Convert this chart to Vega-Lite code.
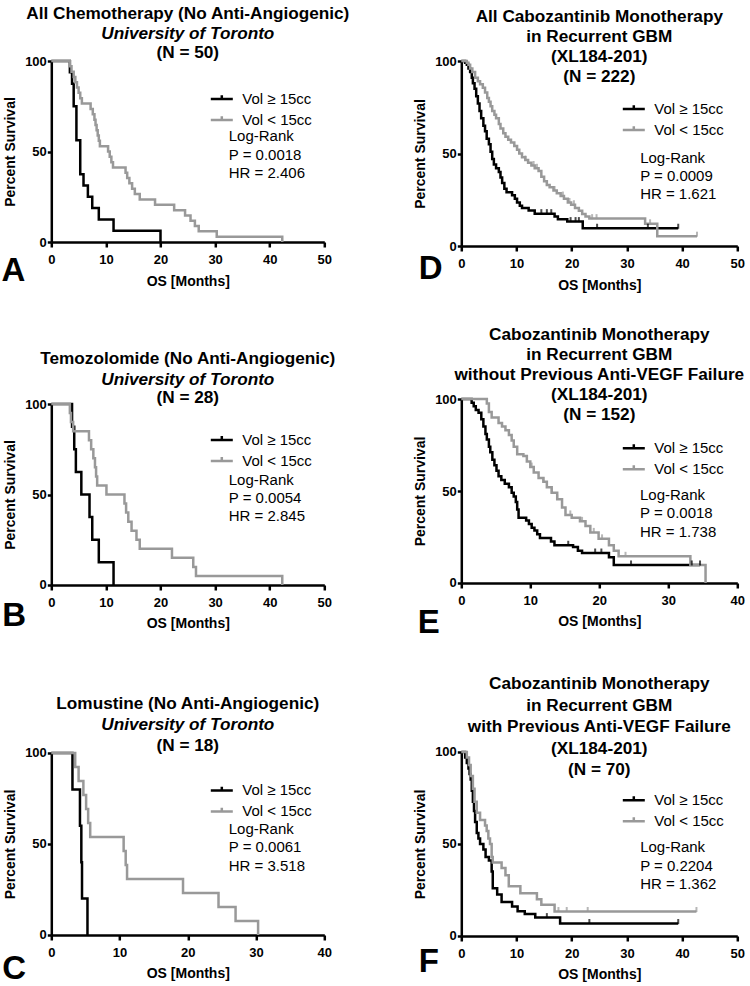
{
"$schema":"https://vega.github.io/schema/vega-lite/v6.json",
"background":"white",
"padding":{"left":1.3,"top":5,"right":2,"bottom":2},
"config":{
 "font":"Liberation Sans",
 "view":{"stroke":null},
 "axis":{"domainColor":"black","domainWidth":2.5,"tickColor":"black","tickWidth":2.5,"tickSize":4,"labelFont":"Liberation Sans","labelFontWeight":"bold","labelFontSize":13,"labelColor":"black","titleFont":"Liberation Sans","titleFontWeight":"bold","titleFontSize":14,"titleColor":"black","grid":false},
 "axisX":{"tickSize":5,"labelPadding":6.5,"titlePadding":7.5,"labelFlush":false},
 "axisY":{"labelPadding":1,"titlePadding":7},
 "title":{"font":"Liberation Sans","fontSize":17.2,"fontWeight":"bold","color":"black","lineHeight":20,"subtitleFont":"Liberation Sans","subtitleFontSize":17.2,"subtitleFontWeight":"bold","subtitleFontStyle":"italic","subtitleColor":"black","subtitleLineHeight":20,"subtitlePadding":3,"frame":"group","anchor":"middle"},
 "legend":{"symbolSize":484,"symbolStrokeWidth":2.5,"labelFont":"Liberation Sans","labelFontSize":15,"labelColor":"black","labelOffset":8,"rowPadding":-3,"padding":0,"labelLimit":300},
 "line":{"strokeWidth":2.5,"interpolate":"step-after"}
},
"datasets":{
"km":[
{"p":"A","g":"Vol ≥ 15cc","t":0,"s":100},{"p":"A","g":"Vol ≥ 15cc","t":3.4,"s":93.75},{"p":"A","g":"Vol ≥ 15cc","t":3.8,"s":87.5},{"p":"A","g":"Vol ≥ 15cc","t":4.1,"s":75},{"p":"A","g":"Vol ≥ 15cc","t":4.6,"s":56.25},{"p":"A","g":"Vol ≥ 15cc","t":5.3,"s":37.5},{"p":"A","g":"Vol ≥ 15cc","t":5.9,"s":31.25},{"p":"A","g":"Vol ≥ 15cc","t":6.7,"s":25},{"p":"A","g":"Vol ≥ 15cc","t":7.5,"s":18.75},{"p":"A","g":"Vol ≥ 15cc","t":8.7,"s":12.5},{"p":"A","g":"Vol ≥ 15cc","t":11.4,"s":6.25},{"p":"A","g":"Vol ≥ 15cc","t":20,"s":0},
{"p":"A","g":"Vol < 15cc","t":0,"s":100},{"p":"A","g":"Vol < 15cc","t":3.4,"s":97.1},{"p":"A","g":"Vol < 15cc","t":3.7,"s":94.1},{"p":"A","g":"Vol < 15cc","t":4.1,"s":91.2},{"p":"A","g":"Vol < 15cc","t":4.4,"s":88.2},{"p":"A","g":"Vol < 15cc","t":4.7,"s":85.3},{"p":"A","g":"Vol < 15cc","t":5.0,"s":82.4},{"p":"A","g":"Vol < 15cc","t":5.3,"s":79.4},{"p":"A","g":"Vol < 15cc","t":5.6,"s":76.5},{"p":"A","g":"Vol < 15cc","t":7.2,"s":73.5},{"p":"A","g":"Vol < 15cc","t":7.6,"s":70.6},{"p":"A","g":"Vol < 15cc","t":7.9,"s":67.6},{"p":"A","g":"Vol < 15cc","t":8.1,"s":64.7},{"p":"A","g":"Vol < 15cc","t":8.3,"s":61.8},{"p":"A","g":"Vol < 15cc","t":8.5,"s":58.8},{"p":"A","g":"Vol < 15cc","t":8.7,"s":55.9},{"p":"A","g":"Vol < 15cc","t":8.9,"s":52.9},{"p":"A","g":"Vol < 15cc","t":10.4,"s":50},{"p":"A","g":"Vol < 15cc","t":10.7,"s":47.1},{"p":"A","g":"Vol < 15cc","t":11.0,"s":44.1},{"p":"A","g":"Vol < 15cc","t":11.3,"s":41.2},{"p":"A","g":"Vol < 15cc","t":13.6,"s":38.2},{"p":"A","g":"Vol < 15cc","t":13.9,"s":35.3},{"p":"A","g":"Vol < 15cc","t":14.3,"s":32.4},{"p":"A","g":"Vol < 15cc","t":14.8,"s":29.4},{"p":"A","g":"Vol < 15cc","t":15.3,"s":26.5},{"p":"A","g":"Vol < 15cc","t":16.2,"s":23.5},{"p":"A","g":"Vol < 15cc","t":19.0,"s":20.6},{"p":"A","g":"Vol < 15cc","t":22.5,"s":17.6},{"p":"A","g":"Vol < 15cc","t":24.5,"s":14.7},{"p":"A","g":"Vol < 15cc","t":25.5,"s":11.8},{"p":"A","g":"Vol < 15cc","t":26.3,"s":8.8},{"p":"A","g":"Vol < 15cc","t":27.0,"s":5.9},{"p":"A","g":"Vol < 15cc","t":30.3,"s":2.9},{"p":"A","g":"Vol < 15cc","t":42.3,"s":0},
{"p":"B","g":"Vol ≥ 15cc","t":0,"s":100},{"p":"B","g":"Vol ≥ 15cc","t":3.8,"s":87.5},{"p":"B","g":"Vol ≥ 15cc","t":4.2,"s":75},{"p":"B","g":"Vol ≥ 15cc","t":4.5,"s":62.5},{"p":"B","g":"Vol ≥ 15cc","t":5.5,"s":50},{"p":"B","g":"Vol ≥ 15cc","t":7.0,"s":37.5},{"p":"B","g":"Vol ≥ 15cc","t":7.5,"s":25},{"p":"B","g":"Vol ≥ 15cc","t":8.7,"s":12.5},{"p":"B","g":"Vol ≥ 15cc","t":11.4,"s":0},
{"p":"B","g":"Vol < 15cc","t":0,"s":100},{"p":"B","g":"Vol < 15cc","t":3.4,"s":95},{"p":"B","g":"Vol < 15cc","t":3.6,"s":90},{"p":"B","g":"Vol < 15cc","t":4.0,"s":85},{"p":"B","g":"Vol < 15cc","t":6.9,"s":80},{"p":"B","g":"Vol < 15cc","t":7.3,"s":75},{"p":"B","g":"Vol < 15cc","t":7.7,"s":70},{"p":"B","g":"Vol < 15cc","t":8.0,"s":65},{"p":"B","g":"Vol < 15cc","t":8.2,"s":60},{"p":"B","g":"Vol < 15cc","t":8.4,"s":55},{"p":"B","g":"Vol < 15cc","t":10.1,"s":50},{"p":"B","g":"Vol < 15cc","t":13.4,"s":45},{"p":"B","g":"Vol < 15cc","t":13.7,"s":40},{"p":"B","g":"Vol < 15cc","t":14.1,"s":35},{"p":"B","g":"Vol < 15cc","t":14.7,"s":30},{"p":"B","g":"Vol < 15cc","t":15.6,"s":25},{"p":"B","g":"Vol < 15cc","t":16.2,"s":20},{"p":"B","g":"Vol < 15cc","t":22.1,"s":15},{"p":"B","g":"Vol < 15cc","t":26.0,"s":10},{"p":"B","g":"Vol < 15cc","t":26.5,"s":5},{"p":"B","g":"Vol < 15cc","t":42.3,"s":0},
{"p":"C","g":"Vol ≥ 15cc","t":0,"s":100},{"p":"C","g":"Vol ≥ 15cc","t":3.1,"s":80},{"p":"C","g":"Vol ≥ 15cc","t":4.2,"s":60},{"p":"C","g":"Vol ≥ 15cc","t":4.4,"s":40},{"p":"C","g":"Vol ≥ 15cc","t":4.5,"s":20},{"p":"C","g":"Vol ≥ 15cc","t":5.3,"s":0},
{"p":"C","g":"Vol < 15cc","t":0,"s":100},{"p":"C","g":"Vol < 15cc","t":3.5,"s":92.3},{"p":"C","g":"Vol < 15cc","t":4.0,"s":84.6},{"p":"C","g":"Vol < 15cc","t":4.7,"s":76.9},{"p":"C","g":"Vol < 15cc","t":5.1,"s":69.2},{"p":"C","g":"Vol < 15cc","t":5.4,"s":61.5},{"p":"C","g":"Vol < 15cc","t":5.7,"s":53.8},{"p":"C","g":"Vol < 15cc","t":10.6,"s":46.2},{"p":"C","g":"Vol < 15cc","t":10.9,"s":38.5},{"p":"C","g":"Vol < 15cc","t":11.1,"s":30.8},{"p":"C","g":"Vol < 15cc","t":19.3,"s":23.1},{"p":"C","g":"Vol < 15cc","t":24.5,"s":15.4},{"p":"C","g":"Vol < 15cc","t":27.0,"s":7.7},{"p":"C","g":"Vol < 15cc","t":30.3,"s":0},
{"p":"D","g":"Vol ≥ 15cc","t":0,"s":100},{"p":"D","g":"Vol ≥ 15cc","t":0.7,"s":99},{"p":"D","g":"Vol ≥ 15cc","t":1.0,"s":98},{"p":"D","g":"Vol ≥ 15cc","t":1.3,"s":96},{"p":"D","g":"Vol ≥ 15cc","t":1.6,"s":94},{"p":"D","g":"Vol ≥ 15cc","t":1.9,"s":91},{"p":"D","g":"Vol ≥ 15cc","t":2.1,"s":88},{"p":"D","g":"Vol ≥ 15cc","t":2.4,"s":85},{"p":"D","g":"Vol ≥ 15cc","t":2.7,"s":81},{"p":"D","g":"Vol ≥ 15cc","t":3.0,"s":77},{"p":"D","g":"Vol ≥ 15cc","t":3.3,"s":73},{"p":"D","g":"Vol ≥ 15cc","t":3.6,"s":69},{"p":"D","g":"Vol ≥ 15cc","t":4.0,"s":65},{"p":"D","g":"Vol ≥ 15cc","t":4.3,"s":62},{"p":"D","g":"Vol ≥ 15cc","t":4.6,"s":58},{"p":"D","g":"Vol ≥ 15cc","t":5.0,"s":55},{"p":"D","g":"Vol ≥ 15cc","t":5.3,"s":51},{"p":"D","g":"Vol ≥ 15cc","t":5.6,"s":47},{"p":"D","g":"Vol ≥ 15cc","t":5.9,"s":44},{"p":"D","g":"Vol ≥ 15cc","t":6.3,"s":42},{"p":"D","g":"Vol ≥ 15cc","t":6.8,"s":40},{"p":"D","g":"Vol ≥ 15cc","t":7.1,"s":37},{"p":"D","g":"Vol ≥ 15cc","t":7.4,"s":34},{"p":"D","g":"Vol ≥ 15cc","t":7.8,"s":31},{"p":"D","g":"Vol ≥ 15cc","t":8.2,"s":29},{"p":"D","g":"Vol ≥ 15cc","t":9.2,"s":27.5},{"p":"D","g":"Vol ≥ 15cc","t":9.7,"s":25.5},{"p":"D","g":"Vol ≥ 15cc","t":10.1,"s":23.5},{"p":"D","g":"Vol ≥ 15cc","t":10.6,"s":21.8},{"p":"D","g":"Vol ≥ 15cc","t":11.0,"s":20.5},{"p":"D","g":"Vol ≥ 15cc","t":12.2,"s":19.2},{"p":"D","g":"Vol ≥ 15cc","t":13.3,"s":17.5},{"p":"D","g":"Vol ≥ 15cc","t":16.9,"s":16},{"p":"D","g":"Vol ≥ 15cc","t":17.5,"s":14.5},{"p":"D","g":"Vol ≥ 15cc","t":19.2,"s":13.2},{"p":"D","g":"Vol ≥ 15cc","t":22.0,"s":9.6},{"p":"D","g":"Vol ≥ 15cc","t":39.3,"s":9.6},
{"p":"D","g":"Vol < 15cc","t":0,"s":100},{"p":"D","g":"Vol < 15cc","t":1.0,"s":99},{"p":"D","g":"Vol < 15cc","t":1.3,"s":98},{"p":"D","g":"Vol < 15cc","t":1.6,"s":96},{"p":"D","g":"Vol < 15cc","t":2.0,"s":94},{"p":"D","g":"Vol < 15cc","t":2.5,"s":91},{"p":"D","g":"Vol < 15cc","t":3.0,"s":89},{"p":"D","g":"Vol < 15cc","t":3.4,"s":87.5},{"p":"D","g":"Vol < 15cc","t":3.9,"s":85.5},{"p":"D","g":"Vol < 15cc","t":4.3,"s":83},{"p":"D","g":"Vol < 15cc","t":4.7,"s":80},{"p":"D","g":"Vol < 15cc","t":5.0,"s":78},{"p":"D","g":"Vol < 15cc","t":5.3,"s":75.5},{"p":"D","g":"Vol < 15cc","t":5.6,"s":73},{"p":"D","g":"Vol < 15cc","t":6.0,"s":71},{"p":"D","g":"Vol < 15cc","t":6.3,"s":69},{"p":"D","g":"Vol < 15cc","t":6.8,"s":66},{"p":"D","g":"Vol < 15cc","t":7.1,"s":63.5},{"p":"D","g":"Vol < 15cc","t":7.6,"s":61},{"p":"D","g":"Vol < 15cc","t":8.0,"s":59},{"p":"D","g":"Vol < 15cc","t":8.5,"s":57.5},{"p":"D","g":"Vol < 15cc","t":9.0,"s":56},{"p":"D","g":"Vol < 15cc","t":9.6,"s":54},{"p":"D","g":"Vol < 15cc","t":10.1,"s":52},{"p":"D","g":"Vol < 15cc","t":10.5,"s":50},{"p":"D","g":"Vol < 15cc","t":11.0,"s":48},{"p":"D","g":"Vol < 15cc","t":11.6,"s":46.5},{"p":"D","g":"Vol < 15cc","t":12.1,"s":45},{"p":"D","g":"Vol < 15cc","t":12.7,"s":43.5},{"p":"D","g":"Vol < 15cc","t":13.3,"s":42},{"p":"D","g":"Vol < 15cc","t":14.0,"s":40.5},{"p":"D","g":"Vol < 15cc","t":14.5,"s":37.5},{"p":"D","g":"Vol < 15cc","t":15.0,"s":35},{"p":"D","g":"Vol < 15cc","t":15.5,"s":33},{"p":"D","g":"Vol < 15cc","t":16.0,"s":31.8},{"p":"D","g":"Vol < 15cc","t":16.7,"s":30},{"p":"D","g":"Vol < 15cc","t":17.3,"s":28.5},{"p":"D","g":"Vol < 15cc","t":18.0,"s":27},{"p":"D","g":"Vol < 15cc","t":18.6,"s":25.5},{"p":"D","g":"Vol < 15cc","t":19.3,"s":23.5},{"p":"D","g":"Vol < 15cc","t":19.9,"s":22.3},{"p":"D","g":"Vol < 15cc","t":20.6,"s":20.5},{"p":"D","g":"Vol < 15cc","t":21.3,"s":19},{"p":"D","g":"Vol < 15cc","t":21.9,"s":17.3},{"p":"D","g":"Vol < 15cc","t":22.5,"s":16},{"p":"D","g":"Vol < 15cc","t":23.2,"s":14.8},{"p":"D","g":"Vol < 15cc","t":33.3,"s":12},{"p":"D","g":"Vol < 15cc","t":35.5,"s":5.3},{"p":"D","g":"Vol < 15cc","t":42.7,"s":5.3},
{"p":"E","g":"Vol ≥ 15cc","t":0,"s":100},{"p":"E","g":"Vol ≥ 15cc","t":1.5,"s":98},{"p":"E","g":"Vol ≥ 15cc","t":1.8,"s":96},{"p":"E","g":"Vol ≥ 15cc","t":2.1,"s":94},{"p":"E","g":"Vol ≥ 15cc","t":2.5,"s":92.5},{"p":"E","g":"Vol ≥ 15cc","t":2.9,"s":89},{"p":"E","g":"Vol ≥ 15cc","t":3.2,"s":85},{"p":"E","g":"Vol ≥ 15cc","t":3.5,"s":81},{"p":"E","g":"Vol ≥ 15cc","t":3.7,"s":78},{"p":"E","g":"Vol ≥ 15cc","t":4.0,"s":74},{"p":"E","g":"Vol ≥ 15cc","t":4.2,"s":71},{"p":"E","g":"Vol ≥ 15cc","t":4.5,"s":67},{"p":"E","g":"Vol ≥ 15cc","t":4.8,"s":64},{"p":"E","g":"Vol ≥ 15cc","t":5.1,"s":61},{"p":"E","g":"Vol ≥ 15cc","t":5.4,"s":58},{"p":"E","g":"Vol ≥ 15cc","t":5.8,"s":56},{"p":"E","g":"Vol ≥ 15cc","t":6.3,"s":54},{"p":"E","g":"Vol ≥ 15cc","t":6.9,"s":52},{"p":"E","g":"Vol ≥ 15cc","t":7.3,"s":49},{"p":"E","g":"Vol ≥ 15cc","t":7.6,"s":47},{"p":"E","g":"Vol ≥ 15cc","t":7.9,"s":44},{"p":"E","g":"Vol ≥ 15cc","t":8.1,"s":40},{"p":"E","g":"Vol ≥ 15cc","t":8.3,"s":35.5},{"p":"E","g":"Vol ≥ 15cc","t":9.4,"s":34},{"p":"E","g":"Vol ≥ 15cc","t":9.8,"s":32},{"p":"E","g":"Vol ≥ 15cc","t":10.2,"s":30},{"p":"E","g":"Vol ≥ 15cc","t":10.6,"s":28.5},{"p":"E","g":"Vol ≥ 15cc","t":11.0,"s":26.5},{"p":"E","g":"Vol ≥ 15cc","t":11.4,"s":24.5},{"p":"E","g":"Vol ≥ 15cc","t":13.0,"s":22.5},{"p":"E","g":"Vol ≥ 15cc","t":13.5,"s":20.5},{"p":"E","g":"Vol ≥ 15cc","t":16.2,"s":19.5},{"p":"E","g":"Vol ≥ 15cc","t":16.9,"s":17.5},{"p":"E","g":"Vol ≥ 15cc","t":17.5,"s":16.3},{"p":"E","g":"Vol ≥ 15cc","t":21.4,"s":14},{"p":"E","g":"Vol ≥ 15cc","t":22.1,"s":9.8},{"p":"E","g":"Vol ≥ 15cc","t":34.6,"s":9.8},
{"p":"E","g":"Vol < 15cc","t":0,"s":100},{"p":"E","g":"Vol < 15cc","t":3.7,"s":97.5},{"p":"E","g":"Vol < 15cc","t":4.0,"s":93},{"p":"E","g":"Vol < 15cc","t":4.4,"s":90},{"p":"E","g":"Vol < 15cc","t":5.4,"s":87},{"p":"E","g":"Vol < 15cc","t":5.9,"s":85},{"p":"E","g":"Vol < 15cc","t":6.4,"s":83},{"p":"E","g":"Vol < 15cc","t":6.9,"s":80.5},{"p":"E","g":"Vol < 15cc","t":7.3,"s":77.5},{"p":"E","g":"Vol < 15cc","t":7.6,"s":74},{"p":"E","g":"Vol < 15cc","t":8.1,"s":70},{"p":"E","g":"Vol < 15cc","t":9.0,"s":69},{"p":"E","g":"Vol < 15cc","t":9.5,"s":66},{"p":"E","g":"Vol < 15cc","t":10.0,"s":63},{"p":"E","g":"Vol < 15cc","t":10.5,"s":60},{"p":"E","g":"Vol < 15cc","t":11.2,"s":57},{"p":"E","g":"Vol < 15cc","t":11.9,"s":55},{"p":"E","g":"Vol < 15cc","t":12.4,"s":52},{"p":"E","g":"Vol < 15cc","t":13.1,"s":49},{"p":"E","g":"Vol < 15cc","t":13.9,"s":45.5},{"p":"E","g":"Vol < 15cc","t":14.6,"s":41},{"p":"E","g":"Vol < 15cc","t":15.1,"s":37},{"p":"E","g":"Vol < 15cc","t":16.0,"s":35.5},{"p":"E","g":"Vol < 15cc","t":17.2,"s":33.5},{"p":"E","g":"Vol < 15cc","t":18.0,"s":31},{"p":"E","g":"Vol < 15cc","t":18.7,"s":27.5},{"p":"E","g":"Vol < 15cc","t":19.9,"s":24},{"p":"E","g":"Vol < 15cc","t":21.4,"s":20.5},{"p":"E","g":"Vol < 15cc","t":22.1,"s":17.5},{"p":"E","g":"Vol < 15cc","t":22.8,"s":14.5},{"p":"E","g":"Vol < 15cc","t":33.2,"s":9.8},{"p":"E","g":"Vol < 15cc","t":35.4,"s":0},
{"p":"F","g":"Vol ≥ 15cc","t":0,"s":100},{"p":"F","g":"Vol ≥ 15cc","t":0.7,"s":97},{"p":"F","g":"Vol ≥ 15cc","t":1.0,"s":94},{"p":"F","g":"Vol ≥ 15cc","t":1.3,"s":91},{"p":"F","g":"Vol ≥ 15cc","t":1.5,"s":88},{"p":"F","g":"Vol ≥ 15cc","t":1.7,"s":85},{"p":"F","g":"Vol ≥ 15cc","t":1.9,"s":79},{"p":"F","g":"Vol ≥ 15cc","t":2.1,"s":73},{"p":"F","g":"Vol ≥ 15cc","t":2.3,"s":68},{"p":"F","g":"Vol ≥ 15cc","t":2.5,"s":62},{"p":"F","g":"Vol ≥ 15cc","t":2.8,"s":56},{"p":"F","g":"Vol ≥ 15cc","t":3.1,"s":53},{"p":"F","g":"Vol ≥ 15cc","t":3.4,"s":50},{"p":"F","g":"Vol ≥ 15cc","t":4.0,"s":47},{"p":"F","g":"Vol ≥ 15cc","t":4.4,"s":43},{"p":"F","g":"Vol ≥ 15cc","t":5.0,"s":41},{"p":"F","g":"Vol ≥ 15cc","t":5.5,"s":35},{"p":"F","g":"Vol ≥ 15cc","t":5.7,"s":26},{"p":"F","g":"Vol ≥ 15cc","t":6.5,"s":22.5},{"p":"F","g":"Vol ≥ 15cc","t":7.3,"s":18.5},{"p":"F","g":"Vol ≥ 15cc","t":9.2,"s":16},{"p":"F","g":"Vol ≥ 15cc","t":10.2,"s":13.5},{"p":"F","g":"Vol ≥ 15cc","t":11.5,"s":12},{"p":"F","g":"Vol ≥ 15cc","t":13.4,"s":10},{"p":"F","g":"Vol ≥ 15cc","t":17.9,"s":6.8},{"p":"F","g":"Vol ≥ 15cc","t":39.3,"s":6.8},
{"p":"F","g":"Vol < 15cc","t":0,"s":100},{"p":"F","g":"Vol < 15cc","t":1.0,"s":97},{"p":"F","g":"Vol < 15cc","t":1.4,"s":93},{"p":"F","g":"Vol < 15cc","t":1.7,"s":87},{"p":"F","g":"Vol < 15cc","t":2.1,"s":80},{"p":"F","g":"Vol < 15cc","t":2.4,"s":73},{"p":"F","g":"Vol < 15cc","t":2.8,"s":67},{"p":"F","g":"Vol < 15cc","t":3.4,"s":63},{"p":"F","g":"Vol < 15cc","t":4.3,"s":60},{"p":"F","g":"Vol < 15cc","t":4.6,"s":57},{"p":"F","g":"Vol < 15cc","t":4.9,"s":53},{"p":"F","g":"Vol < 15cc","t":5.2,"s":50},{"p":"F","g":"Vol < 15cc","t":5.5,"s":43},{"p":"F","g":"Vol < 15cc","t":5.7,"s":40},{"p":"F","g":"Vol < 15cc","t":7.3,"s":37},{"p":"F","g":"Vol < 15cc","t":8.0,"s":33},{"p":"F","g":"Vol < 15cc","t":8.6,"s":27},{"p":"F","g":"Vol < 15cc","t":10.7,"s":23.3},{"p":"F","g":"Vol < 15cc","t":13.7,"s":20},{"p":"F","g":"Vol < 15cc","t":14.5,"s":17},{"p":"F","g":"Vol < 15cc","t":16.9,"s":13.3},{"p":"F","g":"Vol < 15cc","t":42.6,"s":13.3}
],
"cens":[
{"p":"D","g":"Vol ≥ 15cc","t":14.5,"s":17.5},{"p":"D","g":"Vol ≥ 15cc","t":15.5,"s":17.5},{"p":"D","g":"Vol ≥ 15cc","t":16.3,"s":17.5},{"p":"D","g":"Vol ≥ 15cc","t":19.8,"s":13.2},{"p":"D","g":"Vol ≥ 15cc","t":20.7,"s":13.2},{"p":"D","g":"Vol ≥ 15cc","t":21.3,"s":13.2},{"p":"D","g":"Vol ≥ 15cc","t":24.6,"s":9.6},{"p":"D","g":"Vol ≥ 15cc","t":33.8,"s":9.6},{"p":"D","g":"Vol ≥ 15cc","t":39.3,"s":9.6},
{"p":"D","g":"Vol < 15cc","t":10.1,"s":52},{"p":"D","g":"Vol < 15cc","t":11.6,"s":46.5},{"p":"D","g":"Vol < 15cc","t":13.1,"s":43.5},{"p":"D","g":"Vol < 15cc","t":13.7,"s":42},{"p":"D","g":"Vol < 15cc","t":15.5,"s":33},{"p":"D","g":"Vol < 15cc","t":16.9,"s":30},{"p":"D","g":"Vol < 15cc","t":18.4,"s":27},{"p":"D","g":"Vol < 15cc","t":19.6,"s":23.5},{"p":"D","g":"Vol < 15cc","t":20.4,"s":22.3},{"p":"D","g":"Vol < 15cc","t":23.7,"s":14.8},{"p":"D","g":"Vol < 15cc","t":24.5,"s":14.8},{"p":"D","g":"Vol < 15cc","t":34.2,"s":12},{"p":"D","g":"Vol < 15cc","t":42.7,"s":5.3},
{"p":"E","g":"Vol ≥ 15cc","t":15.5,"s":20.5},{"p":"E","g":"Vol ≥ 15cc","t":19.4,"s":16.3},{"p":"E","g":"Vol ≥ 15cc","t":20.3,"s":16.3},{"p":"E","g":"Vol ≥ 15cc","t":24.6,"s":9.8},{"p":"E","g":"Vol ≥ 15cc","t":33.4,"s":9.8},{"p":"E","g":"Vol ≥ 15cc","t":34.6,"s":9.8},
{"p":"E","g":"Vol < 15cc","t":10.2,"s":63},{"p":"E","g":"Vol < 15cc","t":11.9,"s":55},{"p":"E","g":"Vol < 15cc","t":13.1,"s":49},{"p":"E","g":"Vol < 15cc","t":13.9,"s":45.5},{"p":"E","g":"Vol < 15cc","t":15.8,"s":37},{"p":"E","g":"Vol < 15cc","t":17.5,"s":33.5},{"p":"E","g":"Vol < 15cc","t":19.2,"s":27.5},{"p":"E","g":"Vol < 15cc","t":20.4,"s":24},{"p":"E","g":"Vol < 15cc","t":21.4,"s":20.5},{"p":"E","g":"Vol < 15cc","t":23.8,"s":14.5},
{"p":"F","g":"Vol ≥ 15cc","t":15.5,"s":10},{"p":"F","g":"Vol ≥ 15cc","t":23.2,"s":6.8},{"p":"F","g":"Vol ≥ 15cc","t":39.3,"s":6.8},
{"p":"F","g":"Vol < 15cc","t":17.6,"s":13.3},{"p":"F","g":"Vol < 15cc","t":19.1,"s":13.3},{"p":"F","g":"Vol < 15cc","t":22.9,"s":13.3},{"p":"F","g":"Vol < 15cc","t":42.6,"s":13.3}
],
"notes":[
{"p":"A","lr":"Log-Rank\nP = 0.0018\nHR = 2.406","n":"(N = 50)","letter":"A"},
{"p":"B","lr":"Log-Rank\nP = 0.0054\nHR = 2.845","n":"(N = 28)","letter":"B"},
{"p":"C","lr":"Log-Rank\nP = 0.0061\nHR = 3.518","n":"(N = 18)","letter":"C"},
{"p":"D","lr":"Log-Rank\nP = 0.0009\nHR = 1.621","n":"","letter":"D"},
{"p":"E","lr":"Log-Rank\nP = 0.0018\nHR = 1.738","n":"","letter":"E"},
{"p":"F","lr":"Log-Rank\nP = 0.2204\nHR = 1.362","n":"","letter":"F"}
]
},
"hconcat":[
{"vconcat":[
{"width":273,"height":181,
 "title":{"text":"All Chemotherapy (No Anti-Angiogenic)","subtitle":"University of Toronto","offset":1},
 "layer":[
  {"data":{"name":"km"},"transform":[{"filter":"datum.p==='A'"}],"mark":"line",
   "encoding":{
    "x":{"field":"t","type":"quantitative","scale":{"domain":[0,50],"nice":false},"axis":{"values":[0,10,20,30,40,50],"title":"OS [Months]"}},
    "y":{"field":"s","type":"quantitative","scale":{"domain":[0,100],"nice":false},"axis":{"values":[0,50,100],"title":"Percent Survival"}},
    "color":{"field":"g","type":"nominal","scale":{"domain":["Vol ≥ 15cc","Vol < 15cc"],"range":["#000000","#999999"]},"legend":{"title":null,"orient":"none","legendX":158,"legendY":25.6,"rowPadding":-5,"symbolType":"M-1,0H1M0,0V-0.35"}}}},
  {"data":{"name":"notes"},"transform":[{"filter":"datum.p==='A'"}],"mark":{"type":"text","align":"left","baseline":"middle","fontSize":15,"lineHeight":18.3,"lineBreak":"\n","color":"black"},
   "encoding":{"x":{"datum":32.5,"type":"quantitative"},"y":{"datum":58.4,"type":"quantitative"},"text":{"field":"lr","type":"nominal"}}},
  {"data":{"name":"notes"},"transform":[{"filter":"datum.p==='A'"}],"mark":{"type":"text","align":"center","baseline":"middle","fontSize":17.2,"fontWeight":"bold","color":"black"},
   "encoding":{"x":{"datum":25,"type":"quantitative"},"y":{"datum":104.6,"type":"quantitative"},"text":{"field":"n","type":"nominal"}}},
  {"data":{"name":"notes"},"transform":[{"filter":"datum.p==='A'"}],"mark":{"type":"text","align":"left","baseline":"alphabetic","fontSize":33,"fontWeight":"bold","color":"black"},
   "encoding":{"x":{"datum":-9.1,"type":"quantitative"},"y":{"datum":-21.7,"type":"quantitative"},"text":{"field":"letter","type":"nominal"}}}
 ]},
{"width":273,"height":181,
 "title":{"text":"Temozolomide (No Anti-Angiogenic)","subtitle":"University of Toronto","offset":1.5},
 "layer":[
  {"data":{"name":"km"},"transform":[{"filter":"datum.p==='B'"}],"mark":"line",
   "encoding":{
    "x":{"field":"t","type":"quantitative","scale":{"domain":[0,50],"nice":false},"axis":{"values":[0,10,20,30,40,50],"title":"OS [Months]"}},
    "y":{"field":"s","type":"quantitative","scale":{"domain":[0,100],"nice":false},"axis":{"values":[0,50,100],"title":"Percent Survival"}},
    "color":{"field":"g","type":"nominal","scale":{"domain":["Vol ≥ 15cc","Vol < 15cc"],"range":["#000000","#999999"]},"legend":{"title":null,"orient":"none","legendX":158,"legendY":23.4,"rowPadding":-5,"symbolType":"M-1,0H1M0,0V-0.35"}}}},
  {"data":{"name":"notes"},"transform":[{"filter":"datum.p==='B'"}],"mark":{"type":"text","align":"left","baseline":"middle","fontSize":15,"lineHeight":18.3,"lineBreak":"\n","color":"black"},
   "encoding":{"x":{"datum":32.5,"type":"quantitative"},"y":{"datum":58.1,"type":"quantitative"},"text":{"field":"lr","type":"nominal"}}},
  {"data":{"name":"notes"},"transform":[{"filter":"datum.p==='B'"}],"mark":{"type":"text","align":"center","baseline":"middle","fontSize":17.2,"fontWeight":"bold","color":"black"},
   "encoding":{"x":{"datum":25,"type":"quantitative"},"y":{"datum":103.1,"type":"quantitative"},"text":{"field":"n","type":"nominal"}}},
  {"data":{"name":"notes"},"transform":[{"filter":"datum.p==='B'"}],"mark":{"type":"text","align":"left","baseline":"alphabetic","fontSize":33,"fontWeight":"bold","color":"black"},
   "encoding":{"x":{"datum":-9,"type":"quantitative"},"y":{"datum":-22.8,"type":"quantitative"},"text":{"field":"letter","type":"nominal"}}}
 ]},
{"width":273,"height":182,
 "title":{"text":"Lomustine (No Anti-Angiogenic)","subtitle":"University of Toronto","offset":4},
 "layer":[
  {"data":{"name":"km"},"transform":[{"filter":"datum.p==='C'"}],"mark":"line",
   "encoding":{
    "x":{"field":"t","type":"quantitative","scale":{"domain":[0,40],"nice":false},"axis":{"values":[0,10,20,30,40],"title":"OS [Months]"}},
    "y":{"field":"s","type":"quantitative","scale":{"domain":[0,100],"nice":false},"axis":{"values":[0,50,100],"title":"Percent Survival"}},
    "color":{"field":"g","type":"nominal","scale":{"domain":["Vol ≥ 15cc","Vol < 15cc"],"range":["#000000","#999999"]},"legend":{"title":null,"orient":"none","legendX":158,"legendY":25,"rowPadding":-5,"symbolType":"M-1,0H1M0,0V-0.35"}}}},
  {"data":{"name":"notes"},"transform":[{"filter":"datum.p==='C'"}],"mark":{"type":"text","align":"left","baseline":"middle","fontSize":15,"lineHeight":18.3,"lineBreak":"\n","color":"black"},
   "encoding":{"x":{"datum":26,"type":"quantitative"},"y":{"datum":58.2,"type":"quantitative"},"text":{"field":"lr","type":"nominal"}}},
  {"data":{"name":"notes"},"transform":[{"filter":"datum.p==='C'"}],"mark":{"type":"text","align":"center","baseline":"middle","fontSize":17.2,"fontWeight":"bold","color":"black"},
   "encoding":{"x":{"datum":20,"type":"quantitative"},"y":{"datum":104,"type":"quantitative"},"text":{"field":"n","type":"nominal"}}},
  {"data":{"name":"notes"},"transform":[{"filter":"datum.p==='C'"}],"mark":{"type":"text","align":"left","baseline":"alphabetic","fontSize":33,"fontWeight":"bold","color":"black"},
   "encoding":{"x":{"datum":-7.2,"type":"quantitative"},"y":{"datum":-24.3,"type":"quantitative"},"text":{"field":"letter","type":"nominal"}}}
 ]}
],"spacing":61,"resolve":{"scale":{"color":"independent"}}},
{"vconcat":[
{"width":276,"height":185,
 "title":{"text":["All Cabozantinib Monotherapy","in Recurrent GBM","(XL184-201)","(N = 222)"],"offset":-30.5},
 "layer":[
  {"data":{"name":"km"},"transform":[{"filter":"datum.p==='D'"}],"mark":"line",
   "encoding":{
    "x":{"field":"t","type":"quantitative","scale":{"domain":[0,50],"nice":false},"axis":{"values":[0,10,20,30,40,50],"title":"OS [Months]"}},
    "y":{"field":"s","type":"quantitative","scale":{"domain":[0,100],"nice":false},"axis":{"values":[0,50,100],"title":"Percent Survival"}},
    "color":{"field":"g","type":"nominal","scale":{"domain":["Vol ≥ 15cc","Vol < 15cc"],"range":["#000000","#999999"]},"legend":{"title":null,"orient":"none","legendX":160,"legendY":35.6,"rowPadding":-2,"symbolType":"M-1,0H1M0,0V-0.35"}}}},
  {"data":{"name":"cens"},"transform":[{"filter":"datum.p==='D'"}],"mark":{"type":"tick","orient":"vertical","size":5,"thickness":2,"yOffset":-2},
   "encoding":{"x":{"field":"t","type":"quantitative"},"y":{"field":"s","type":"quantitative"},"color":{"field":"g","type":"nominal"}}},
  {"data":{"name":"notes"},"transform":[{"filter":"datum.p==='D'"}],"mark":{"type":"text","align":"left","baseline":"middle","fontSize":15,"lineHeight":18.3,"lineBreak":"\n","color":"black"},
   "encoding":{"x":{"datum":32.4,"type":"quantitative"},"y":{"datum":47.8,"type":"quantitative"},"text":{"field":"lr","type":"nominal"}}},
  {"data":{"name":"notes"},"transform":[{"filter":"datum.p==='D'"}],"mark":{"type":"text","align":"left","baseline":"alphabetic","fontSize":33,"fontWeight":"bold","color":"black"},
   "encoding":{"x":{"datum":-7.7,"type":"quantitative"},"y":{"datum":-17.7,"type":"quantitative"},"text":{"field":"letter","type":"nominal"}}}
 ]},
{"width":276,"height":184,
 "title":{"text":["Cabozantinib Monotherapy","in Recurrent GBM","without Previous Anti-VEGF Failure","(XL184-201)","(N = 152)"],"offset":-30.25},
 "layer":[
  {"data":{"name":"km"},"transform":[{"filter":"datum.p==='E'"}],"mark":"line",
   "encoding":{
    "x":{"field":"t","type":"quantitative","scale":{"domain":[0,40],"nice":false},"axis":{"values":[0,10,20,30,40],"title":"OS [Months]"}},
    "y":{"field":"s","type":"quantitative","scale":{"domain":[0,100],"nice":false},"axis":{"values":[0,50,100],"title":"Percent Survival"}},
    "color":{"field":"g","type":"nominal","scale":{"domain":["Vol ≥ 15cc","Vol < 15cc"],"range":["#000000","#999999"]},"legend":{"title":null,"orient":"none","legendX":160,"legendY":36.7,"rowPadding":-3,"symbolType":"M-1,0H1M0,0V-0.35"}}}},
  {"data":{"name":"cens"},"transform":[{"filter":"datum.p==='E'"}],"mark":{"type":"tick","orient":"vertical","size":5,"thickness":2,"yOffset":-2},
   "encoding":{"x":{"field":"t","type":"quantitative"},"y":{"field":"s","type":"quantitative"},"color":{"field":"g","type":"nominal"}}},
  {"data":{"name":"notes"},"transform":[{"filter":"datum.p==='E'"}],"mark":{"type":"text","align":"left","baseline":"middle","fontSize":15,"lineHeight":18.3,"lineBreak":"\n","color":"black"},
   "encoding":{"x":{"datum":25.9,"type":"quantitative"},"y":{"datum":47.8,"type":"quantitative"},"text":{"field":"lr","type":"nominal"}}},
  {"data":{"name":"notes"},"transform":[{"filter":"datum.p==='E'"}],"mark":{"type":"text","align":"left","baseline":"alphabetic","fontSize":33,"fontWeight":"bold","color":"black"},
   "encoding":{"x":{"datum":-6.3,"type":"quantitative"},"y":{"datum":-27.4,"type":"quantitative"},"text":{"field":"letter","type":"nominal"}}}
 ]},
{"width":276,"height":184,
 "title":{"text":["Cabozantinib Monotherapy","in Recurrent GBM","with Previous Anti-VEGF Failure","(XL184-201)","(N = 70)"],"offset":-32.25,"lineHeight":21.5},
 "layer":[
  {"data":{"name":"km"},"transform":[{"filter":"datum.p==='F'"}],"mark":"line",
   "encoding":{
    "x":{"field":"t","type":"quantitative","scale":{"domain":[0,50],"nice":false},"axis":{"values":[0,10,20,30,40,50],"title":"OS [Months]"}},
    "y":{"field":"s","type":"quantitative","scale":{"domain":[0,100],"nice":false},"axis":{"values":[0,50,100],"title":"Percent Survival"}},
    "color":{"field":"g","type":"nominal","scale":{"domain":["Vol ≥ 15cc","Vol < 15cc"],"range":["#000000","#999999"]},"legend":{"title":null,"orient":"none","legendX":160,"legendY":35.7,"rowPadding":-5,"symbolType":"M-1,0H1M0,0V-0.35"}}}},
  {"data":{"name":"cens"},"transform":[{"filter":"datum.p==='F'"}],"mark":{"type":"tick","orient":"vertical","size":5,"thickness":2,"yOffset":-2},
   "encoding":{"x":{"field":"t","type":"quantitative"},"y":{"field":"s","type":"quantitative"},"color":{"field":"g","type":"nominal"}}},
  {"data":{"name":"notes"},"transform":[{"filter":"datum.p==='F'"}],"mark":{"type":"text","align":"left","baseline":"middle","fontSize":15,"lineHeight":18.3,"lineBreak":"\n","color":"black"},
   "encoding":{"x":{"datum":32.4,"type":"quantitative"},"y":{"datum":48.2,"type":"quantitative"},"text":{"field":"lr","type":"nominal"}}},
  {"data":{"name":"notes"},"transform":[{"filter":"datum.p==='F'"}],"mark":{"type":"text","align":"left","baseline":"alphabetic","fontSize":33,"fontWeight":"bold","color":"black"},
   "encoding":{"x":{"datum":-7.7,"type":"quantitative"},"y":{"datum":-19.7,"type":"quantitative"},"text":{"field":"letter","type":"nominal"}}}
 ]}
],"spacing":34,"resolve":{"scale":{"color":"independent"}}}
],
"spacing":63,
"resolve":{"scale":{"color":"independent"}}
}
